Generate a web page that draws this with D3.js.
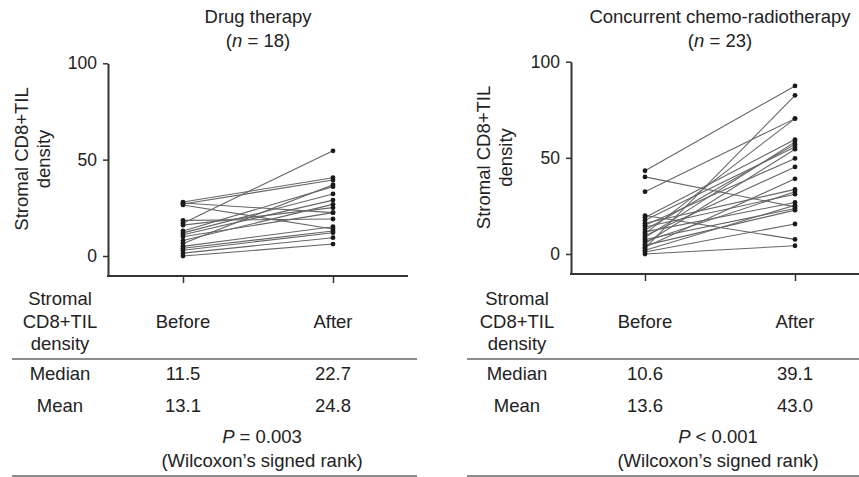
<!DOCTYPE html>
<html>
<head>
<meta charset="utf-8">
<script src="https://cdn.jsdelivr.net/npm/d3@7"></script>
<style>
  body { margin: 0; background: #fff; }
  svg { display: block; font-family: "Liberation Sans", Arial, sans-serif; }
  text { fill: #222; }
</style>
</head>
<body>
<div id="container"></div>
<script>
// Data
const drugBefore = [28, 27.5, 27, 26.5, 18.5, 17, 16, 13, 12, 11, 10, 8, 6.5, 5, 4, 3, 1.5, 0];
const drugAfter = [40.6, 22.5, 39.4, 14, 19.2, 54.6, 25.1, 36, 32.2, 29, 22.5, 26.8, 37, 15.2, 13, 12.1, 9.5, 6.2];

const ccrtBefore = [43.3, 40.1, 32.4, 20, 19, 17.5, 16, 15, 14, 12.5, 11.5, 10.6, 9.5, 8.5, 7.5, 6.5, 5.5, 4.5, 3.5, 3, 2, 1, 0];
const ccrtAfter = [87.4, 24.5, 70.4, 7.6, 59.5, 55.7, 33.6, 49.7, 31.1, 57.1, 26.8, 70.4, 45.3, 58.3, 23.7, 32.4, 54.5, 22.8, 39.1, 82.5, 25.4, 15.6, 4.3];

const groups = ["Before", "After"];
const yTicks = [0, 50, 100];
const titles = ["Drug therapy", "Concurrent chemo-radiotherapy"];
const nValues = ["18", "23"];
const medianRow = [["11.5", "22.7"], ["10.6", "39.1"]];
const meanRow = [["13.1", "24.8"], ["13.6", "43.0"]];
const pText = [["= 0.003"], ["< 0.001"]];

const width = 859, height = 477;
const fs = "18.5px";

const svg = d3.select("#container").append("svg")
  .attr("width", width)
  .attr("height", height);

// panel layouts
const panels = [
  { before: drugBefore, after: drugAfter, axisX: 108, xs: [183, 333], y0: 256, y100: 63.3, xEnd: 408,
    titleX: 258, labX: 28, labY: 159, colX: 60, lineL: 12, lineR: 417, pX: 262 },
  { before: ccrtBefore, after: ccrtAfter, axisX: 571, xs: [645, 795], y0: 254, y100: 61.7, xEnd: 859,
    titleX: 720, labX: 490, labY: 157.5, colX: 517, lineL: 467, lineR: 859, pX: 718 }
];

panels.forEach((p, i) => {
  const g = svg.append("g");

  const y = d3.scaleLinear().domain([0, 100]).range([p.y0, p.y100]);
  const x = d3.scalePoint().domain(groups).range(p.xs);
  const yBottom = y(-10.4);

  // Title
  g.append("text").attr("x", p.titleX).attr("y", 23).attr("text-anchor", "middle")
    .style("font-size", fs).text(titles[i]);
  const nt = g.append("text").attr("x", p.titleX).attr("y", 47).attr("text-anchor", "middle")
    .style("font-size", fs);
  nt.append("tspan").text("(");
  nt.append("tspan").style("font-style", "italic").text("n");
  nt.append("tspan").text(" = " + nValues[i] + ")");

  // Y axis
  const yAxis = d3.axisLeft(y.copy().domain([-10.4, 100]).range([yBottom, p.y100]))
    .tickValues(yTicks).tickSize(5).tickPadding(6).tickSizeOuter(0);
  const ya = g.append("g").attr("transform", `translate(${p.axisX},0)`).call(yAxis);
  ya.select(".domain").attr("stroke", "#333").attr("stroke-width", 2);
  ya.selectAll(".tick line").attr("stroke", "#333").attr("stroke-width", 1.5);
  ya.selectAll(".tick text").style("font-size", "17.5px").attr("fill", "#222")
    .style("font-family", "'Liberation Sans', Arial, sans-serif");

  // X axis
  g.append("line").attr("x1", p.axisX - 1).attr("x2", p.xEnd)
    .attr("y1", yBottom).attr("y2", yBottom)
    .attr("stroke", "#333").attr("stroke-width", 2);
  const xa = g.append("g").attr("transform", `translate(0,${yBottom})`)
    .call(d3.axisBottom(x).tickSize(7).tickFormat(""));
  xa.select(".domain").remove();
  xa.selectAll(".tick line").attr("stroke", "#333").attr("stroke-width", 1.5);

  // Y label
  const lab = g.append("text")
    .attr("transform", `translate(${p.labX},${p.labY}) rotate(-90)`)
    .attr("text-anchor", "middle").style("font-size", fs);
  lab.append("tspan").attr("x", 0).attr("y", 0).text("Stromal CD8+TIL");
  lab.append("tspan").attr("x", 0).attr("y", 22).text("density");

  // paired lines and dots
  const pairs = p.before.map((b, k) => [b, p.after[k]]);
  g.append("g").selectAll("line").data(pairs).join("line")
    .attr("x1", x("Before")).attr("x2", x("After"))
    .attr("y1", (d) => y(d[0])).attr("y2", (d) => y(d[1]))
    .attr("stroke", "#666").attr("stroke-width", 1.1);
  const pts = [];
  pairs.forEach((d) => { pts.push(["Before", d[0]]); pts.push(["After", d[1]]); });
  g.append("g").selectAll("circle").data(pts).join("circle")
    .attr("cx", (d) => x(d[0])).attr("cy", (d) => y(d[1]))
    .attr("r", 2.4).attr("fill", "#1a1a1a");

  // Table
  const t = g.append("g").style("font-size", fs);
  ["Stromal", "CD8+TIL", "density"].forEach((s, k) => {
    t.append("text").attr("x", p.colX).attr("y", 305 + k * 22.5)
      .attr("text-anchor", "middle").text(s);
  });
  groups.forEach((gr, k) => {
    t.append("text").attr("x", x(gr)).attr("y", 328).attr("text-anchor", "middle").text(gr);
    t.append("text").attr("x", x(gr)).attr("y", 380).attr("text-anchor", "middle").text(medianRow[i][k]);
    t.append("text").attr("x", x(gr)).attr("y", 412).attr("text-anchor", "middle").text(meanRow[i][k]);
  });
  t.append("text").attr("x", p.colX).attr("y", 380).attr("text-anchor", "middle").text("Median");
  t.append("text").attr("x", p.colX).attr("y", 412).attr("text-anchor", "middle").text("Mean");

  const pt = t.append("text").attr("x", p.pX).attr("y", 443).attr("text-anchor", "middle");
  pt.append("tspan").style("font-style", "italic").text("P");
  pt.append("tspan").text(" " + pText[i][0]);
  t.append("text").attr("x", p.pX).attr("y", 467).attr("text-anchor", "middle")
    .text("(Wilcoxon\u2019s signed rank)");

  [359, 476].forEach((ly) => {
    t.append("line").attr("x1", p.lineL).attr("x2", p.lineR).attr("y1", ly).attr("y2", ly)
      .attr("stroke", "#666").attr("stroke-width", 1.5);
  });
});
</script>
</body>
</html>
